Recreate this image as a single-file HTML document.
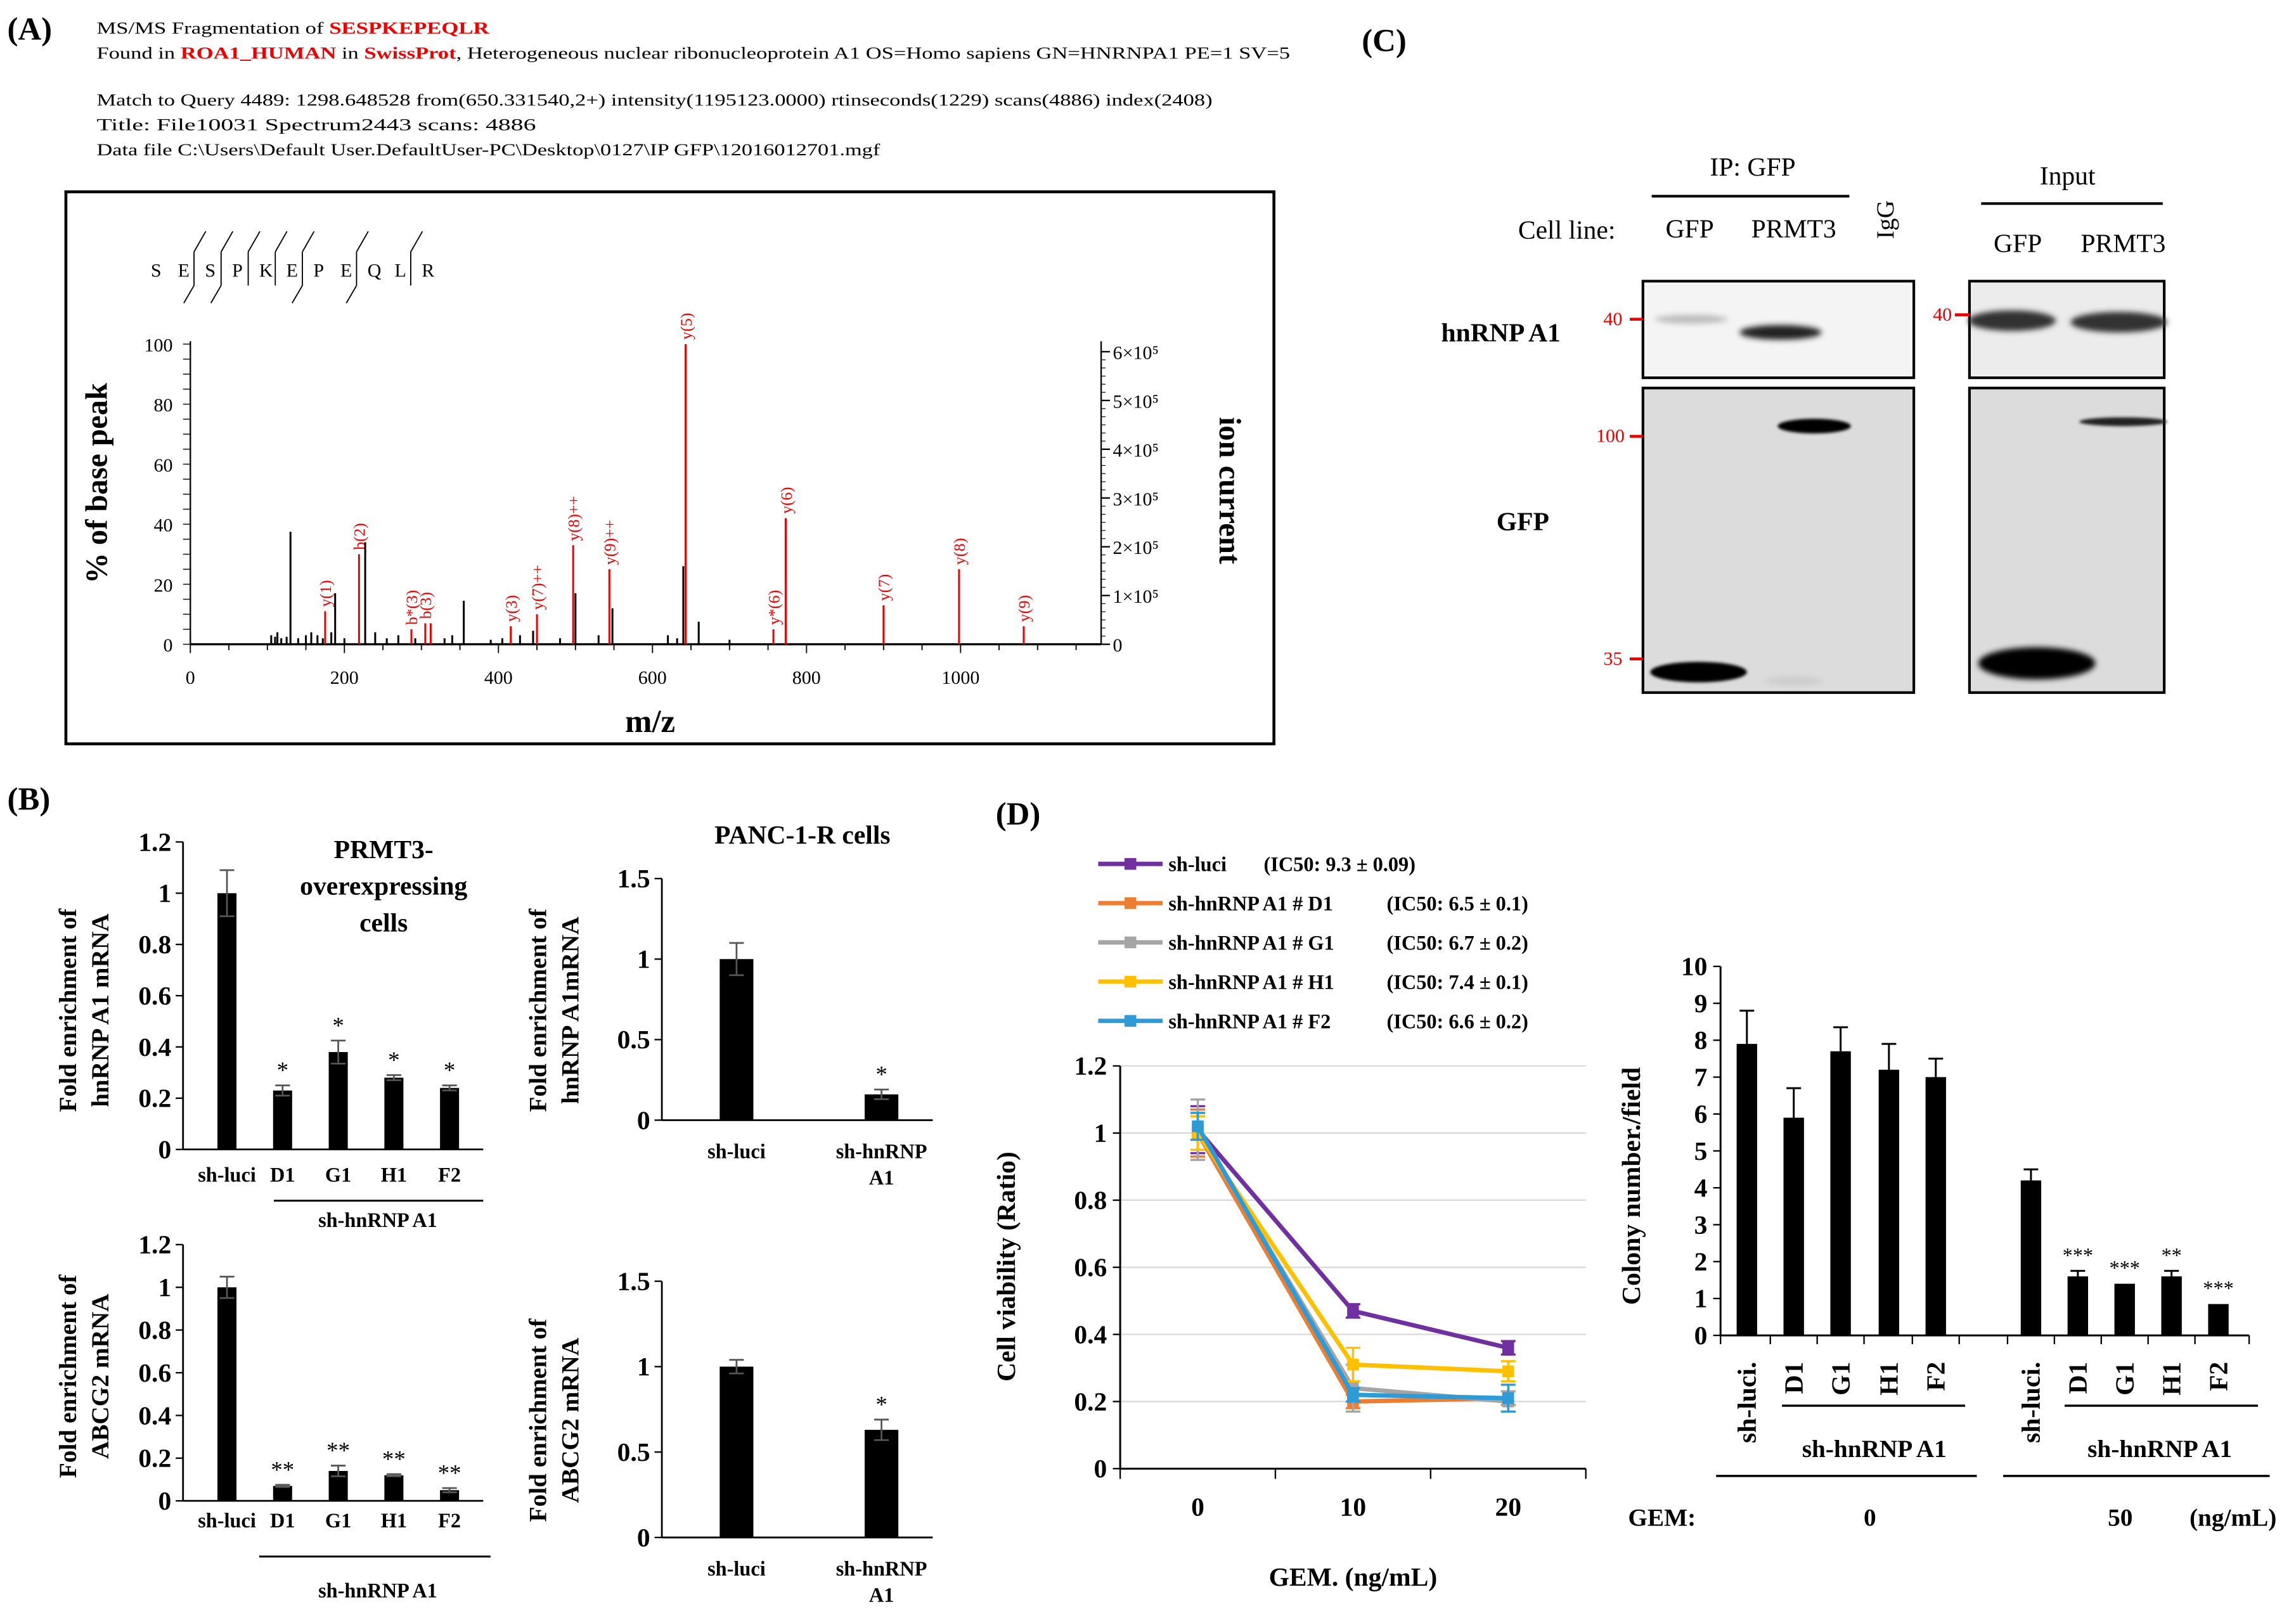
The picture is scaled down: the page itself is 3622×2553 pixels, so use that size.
<!DOCTYPE html>
<html><head><meta charset="utf-8"><style>
html,body{margin:0;padding:0;background:#fff;}
svg{display:block;}
text{font-family:"Liberation Serif",serif;}
.b{font-weight:bold;}
</style></head><body>
<svg id="fig" xmlns="http://www.w3.org/2000/svg" width="3622" height="2553" viewBox="0 0 1568 1105" preserveAspectRatio="none">
<rect width="1568" height="1105" fill="#fff"/>
<g font-size="11.5">
<text x="5" y="27" font-size="22" class="b">(A)</text>
<text x="66" y="23" textLength="268" lengthAdjust="spacingAndGlyphs">MS/MS Fragmentation of <tspan fill="#e00" class="b">SESPKEPEQLR</tspan></text>
<text x="66" y="40" textLength="815" lengthAdjust="spacingAndGlyphs">Found in <tspan fill="#e00" class="b">ROA1_HUMAN</tspan> in <tspan fill="#e00" class="b">SwissProt</tspan>, Heterogeneous nuclear ribonucleoprotein A1 OS=Homo sapiens GN=HNRNPA1 PE=1 SV=5</text>
<text x="66" y="72" textLength="762" lengthAdjust="spacingAndGlyphs">Match to Query 4489: 1298.648528 from(650.331540,2+) intensity(1195123.0000) rtinseconds(1229) scans(4886) index(2408)</text>
<text x="66" y="89" textLength="300" lengthAdjust="spacingAndGlyphs">Title: File10031 Spectrum2443 scans: 4886</text>
<text x="66" y="106" textLength="535" lengthAdjust="spacingAndGlyphs">Data file C:\Users\Default User.DefaultUser-PC\Desktop\0127\IP GFP\12016012701.mgf</text>
</g>
<rect x="45" y="131" width="825" height="377" fill="none" stroke="#000" stroke-width="2"/>
<g id="spec"></g>
<text x="5" y="553" font-size="22" class="b">(B)</text>
<g id="bcharts"></g>
<text x="930" y="35" font-size="22" class="b">(C)</text>
<g id="blot"></g>
<text x="680" y="563" font-size="22" class="b">(D)</text>
<g id="line"></g>
<g id="colony"></g>
</svg>
<script>
// ---------- DATA ----------
const specMz   = [105,110,113,118,125,130,140,150,157,165,172,175,183,188,200,219,227,240,255,270,287,292,305,312,330,340,355,390,405,416,428,445,450,480,497,500,530,544,548,620,632,640,643,660,700,757,773,900,998,1082];
const specPct  = [3,2.5,4,2,2.5,37.5,2,3,4,3,2,11,4,17,2,30,34,4,2,3,5,2,7,7,2,3,14.5,1.5,2,6,3,4.5,10,2,33,17,3,25,12,3,2,26,100,7.5,1.5,5,42,13,25,6];
const specRed  = [0,0,0,0,0,0,0,0,0,0,0,1,0,0,0,1,0,0,0,0,1,0,1,1,0,0,0,0,0,1,0,0,1,0,1,0,0,1,0,0,0,0,1,0,0,1,1,1,1,1];
const specLbl  = ["","","","","","","","","","","","y(1)","","","","b(2)","","","","","b*(3)","","b(3)","","","","","","","y(3)","","","y(7)++","","y(8)++","","","y(9)++","","","","","y(5)","","","y*(6)","y(6)","y(7)","y(8)","y(9)"];
const mzTicks  = [0,200,400,600,800,1000];
const pctTicks = [0,20,40,60,80,100];
const ionTicks = ["0","1×10⁵","2×10⁵","3×10⁵","4×10⁵","5×10⁵","6×10⁵"];

const b1Cats=["sh-luci","D1","G1","H1","F2"], b1Vals=[1.0,0.23,0.38,0.28,0.24], b1Err=[0.09,0.02,0.045,0.01,0.01], b1Sig=["","*","*","*","*"];
const b2Cats=["sh-luci","sh-hnRNP|A1"], b2Vals=[1.0,0.16], b2Err=[0.1,0.03], b2Sig=["","*"];
const b3Vals=[1.0,0.07,0.14,0.12,0.05], b3Err=[0.05,0.005,0.025,0.005,0.01], b3Sig=["","**","**","**","**"];
const b4Vals=[1.0,0.63], b4Err=[0.04,0.06], b4Sig=["","*"];
const b1Ticks=[0,0.2,0.4,0.6,0.8,1,1.2], b2Ticks=[0,0.5,1,1.5];

const doses=[0,10,20];
const seriesNames=["sh-luci","sh-hnRNP A1 # D1","sh-hnRNP A1 # G1","sh-hnRNP A1 # H1","sh-hnRNP A1 # F2"];
const seriesIC=["(IC50: 9.3 ± 0.09)","(IC50: 6.5 ± 0.1)","(IC50: 6.7 ± 0.2)","(IC50: 7.4 ± 0.1)","(IC50: 6.6 ± 0.2)"];
const vLuci=[1.01,0.47,0.36], vD1=[1.0,0.20,0.21], vG1=[1.01,0.24,0.20], vH1=[1.0,0.31,0.29], vF2=[1.02,0.22,0.21];
const eLuci=[0.07,0.02,0.02], eD1=[0.07,0.02,0.02], eG1=[0.09,0.07,0.03], eH1=[0.05,0.05,0.03], eF2=[0.04,0.02,0.04];
const vTicks=[0,0.2,0.4,0.6,0.8,1,1.2];

const colCats=["sh-luci.","D1","G1","H1","F2","sh-luci.","D1","G1","H1","F2"];
const colVals=[7.9,5.9,7.7,7.2,7.0,4.2,1.6,1.4,1.6,0.85];
const colErr=[0.9,0.8,0.65,0.7,0.5,0.3,0.15,0,0.15,0];
const colSig=["","","","","","","***","***","**","***"];
const colTicks=[0,1,2,3,4,5,6,7,8,9,10];

// ---------- HELPERS ----------
const NS="http://www.w3.org/2000/svg";
function el(tag,attrs,parent){const e=document.createElementNS(NS,tag);for(const k in attrs)e.setAttribute(k,attrs[k]);parent.appendChild(e);return e;}
function txt(s,attrs,parent){const e=el('text',attrs,parent);e.textContent=s;return e;}

// ---------- SPECTRUM ----------
(function(){
 const g=document.getElementById('spec');
 const x=m=>130+m*0.526, y=p=>440-p*2.05;
 let e=el('line',{x1:130,y1:440,x2:752,y2:440,stroke:'#000','stroke-width':1.5},g);
 
 e=el('line',{x1:130,y1:440,x2:130,y2:233,stroke:'#000','stroke-width':1},g);
 
 e=el('line',{x1:752,y1:440,x2:752,y2:233,stroke:'#000','stroke-width':1},g);
 
 for(let m=0;m<=1180;m+=50){el('line',{x1:x(m),y1:440,x2:x(m),y2:m%200==0?446:444,stroke:'#000','stroke-width':0.8},g);}
 mzTicks.forEach(m=>{const t=txt(String(m),{x:x(m),y:467,'font-size':13,'text-anchor':'middle'},g);});
 for(let p=0;p<=100;p+=5){el('line',{x1:125,y1:y(p),x2:130,y2:y(p),stroke:'#000','stroke-width':0.6},g);}
 pctTicks.forEach(p=>{const t=txt(String(p),{x:118,y:y(p)+5,'font-size':13,'text-anchor':'end'},g);});
 ionTicks.forEach((s,i)=>{const yy=440-i*33.3;el('line',{x1:752,y1:yy,x2:758,y2:yy,stroke:'#000'},g);const t=txt(s,{x:760,y:yy+5,'font-size':13},g);});
 for(let i=0;i<=36;i++){const yy=440-i*33.3/6;el('line',{x1:752,y1:yy,x2:755,y2:yy,stroke:'#000','stroke-width':0.5},g);}
 specMz.forEach((m,i)=>{
  const l=el('line',{x1:x(m),y1:440,x2:x(m),y2:y(specPct[i]),stroke:specRed[i]?'#e00':'#000','stroke-width':1.3},g);
  
  if(specLbl[i]){const px=x(m)+4,py=y(specPct[i])-3;const t=txt(specLbl[i],{x:px,y:py,'font-size':11,fill:'#e00',transform:`rotate(-90 ${px} ${py})`},g);}
 });
 let t=txt('% of base peak',{x:73,y:330,'font-size':21,'text-anchor':'middle',class:'b',transform:'rotate(-90 73 330)'},g);
 
 t=txt('ion current',{x:833,y:335,'font-size':21,'text-anchor':'middle',class:'b',transform:'rotate(90 833 335)'},g);
 
 t=txt('m/z',{x:444,y:500,'font-size':22,'text-anchor':'middle',class:'b'},g);
 
 const seq="SESPKEPEQLR".split("");
 seq.forEach((c,i)=>{const t=txt(c,{x:103+i*18.5,y:189,'font-size':13},g);});
 [1,2,3,4,5,7,9].forEach(i=>{const xx=117+i*18.5-3;el('line',{x1:xx,y1:172,x2:xx,y2:195,stroke:'#000','stroke-width':0.8},g);el('line',{x1:xx,y1:172,x2:xx+8,y2:158,stroke:'#000','stroke-width':0.8},g);});
 [1,2,5,7].forEach(i=>{const xx=117+i*18.5-3;el('line',{x1:xx,y1:195,x2:xx-7,y2:207,stroke:'#000','stroke-width':0.8},g);});
})();

// ---------- BAR CHARTS B ----------
function barChart(o){
 const g=el('g',{},document.getElementById('bcharts'));
 
 const y=v=>o.y0-v*(o.y0-o.ytop)/o.ymax;
 el('line',{x1:o.x0,y1:o.ytop,x2:o.x0,y2:o.y0,stroke:'#000','stroke-width':1.2},g);
 el('line',{x1:o.x0,y1:o.y0,x2:o.x1,y2:o.y0,stroke:'#000','stroke-width':1.2},g);
 o.ticks.forEach(v=>{el('line',{x1:o.x0-5,y1:y(v),x2:o.x0,y2:y(v),stroke:'#000'},g);const t=txt(String(v),{x:o.x0-8,y:y(v)+6,'font-size':18,'text-anchor':'end',class:'b'},g);});
 o.vals.forEach((v,i)=>{
  const cx=o.xs[i];
  const r=el('rect',{x:cx-o.bw/2,y:y(v),width:o.bw,height:o.y0-y(v),fill:'#000'},g);
  
  const e=o.err[i];
  el('line',{x1:cx,y1:y(v+e),x2:cx,y2:y(v-e),stroke:'#555','stroke-width':1.2},g);
  el('line',{x1:cx-5,y1:y(v+e),x2:cx+5,y2:y(v+e),stroke:'#555','stroke-width':1.2},g);
  el('line',{x1:cx-5,y1:y(v-e),x2:cx+5,y2:y(v-e),stroke:'#555','stroke-width':1.2},g);
  if(o.sig[i]){const t=txt(o.sig[i],{x:cx,y:y(v+e)-5,'font-size':16,'text-anchor':'middle'},g);}
  if(o.cats){o.cats[i].split('|').forEach((s,k)=>{const t=txt(s,{x:cx,y:o.y0+o.catDy+k*18,'font-size':14,'text-anchor':'middle',class:'b'},g);});}
 });
 o.title.forEach((s,k)=>{const tx=o.tx+k*22, ty=o.ty;const t=txt(s,{x:tx,y:ty,'font-size':17,'text-anchor':'middle',class:'b',transform:`rotate(-90 ${tx} ${ty})`},g);});
 return g;
}
const gb1=barChart({name:'hnrnpa1-prmt3-chart',x0:125,x1:330,y0:785,ytop:575,ymax:1.2,ticks:b1Ticks,xs:[155,193,231,269,307],bw:13,vals:b1Vals,err:b1Err,sig:b1Sig,cats:b1Cats,catDy:22,title:['Fold enrichment of','hnRNP A1 mRNA'],tx:52,ty:690});
const gb2=barChart({name:'hnrnpa1-panc-chart',x0:452,x1:637,y0:765,ytop:600,ymax:1.5,ticks:b2Ticks,xs:[503,602],bw:23,vals:b2Vals,err:b2Err,sig:b2Sig,cats:b2Cats,catDy:26,title:['Fold enrichment of','hnRNP A1mRNA'],tx:373,ty:690});
const gb3=barChart({name:'abcg2-prmt3-chart',x0:125,x1:330,y0:1025,ytop:850,ymax:1.2,ticks:b1Ticks,xs:[155,193,231,269,307],bw:13,vals:b3Vals,err:b3Err,sig:b3Sig,cats:b1Cats,catDy:18,title:['Fold enrichment of','ABCG2 mRNA'],tx:52,ty:940});
const gb4=barChart({name:'abcg2-panc-chart',x0:452,x1:637,y0:1050,ytop:875,ymax:1.5,ticks:b2Ticks,xs:[503,602],bw:23,vals:b4Vals,err:b4Err,sig:b4Sig,cats:b2Cats,catDy:26,title:['Fold enrichment of','ABCG2 mRNA'],tx:373,ty:970});
(function(){const g=document.getElementById('bcharts');
 [['PRMT3-',262,586],['overexpressing',262,611],['cells',262,636],['PANC-1-R cells',548,576]].forEach(a=>{const t=txt(a[0],{x:a[1],y:a[2],'font-size':18,'text-anchor':'middle',class:'b'},g);});
 el('line',{x1:187,y1:820,x2:330,y2:820,stroke:'#000','stroke-width':1.3},g);
 let t=txt('sh-hnRNP  A1',{x:258,y:838,'font-size':14,'text-anchor':'middle',class:'b'},g);
 el('line',{x1:177,y1:1063,x2:335,y2:1063,stroke:'#000','stroke-width':1.3},g);
 t=txt('sh-hnRNP  A1',{x:258,y:1091,'font-size':14,'text-anchor':'middle',class:'b'},g);
})();

// ---------- WESTERN BLOT ----------
(function(){
 const g=document.getElementById('blot');
 const defs=el('defs',{},g);
 const f=el('filter',{id:'blur',x:'-50%',y:'-100%',width:'200%',height:'300%'},defs);el('feGaussianBlur',{stdDeviation:2},f);
 const f2=el('filter',{id:'blur2',x:'-50%',y:'-100%',width:'200%',height:'300%'},defs);el('feGaussianBlur',{stdDeviation:1},f2);
 [[1122,192,185,66,'#f4f4f4'],[1122,265,185,208,'#dcdcdc'],[1345,192,133,66,'#ececec'],[1345,265,133,208,'#dcdcdc']].forEach(b=>{const r=el('rect',{x:b[0],y:b[1],width:b[2],height:b[3],fill:b[4],stroke:'#000','stroke-width':1.8},g);});
 const bands=[[1155,218,25,3,'#bbb','blur'],[1216,227,28,5,'#222','blur'],[1374,219,30,7,'#333','blur'],[1447,220,33,7,'#333','blur'],[1239,291,25,5,'#000','blur2'],[1450,288,30,3,'#222','blur2'],[1160,459,33,7,'#000','blur2'],[1225,465,20,3,'#ccc','blur'],[1391,453,40,11,'#000','blur']];
 bands.forEach(b=>{const e=el('ellipse',{cx:b[0],cy:b[1],rx:b[2],ry:b[3],fill:b[4],filter:`url(#${b[5]})`},g);});
 [[1095,218,'40',1113,1122],[1090,298,'100',1113,1122],[1095,450,'35',1113,1122],[1320,215,'40',1335,1345]].forEach(m=>{const t=txt(m[2],{x:m[0],y:m[1]+4,'font-size':13,fill:'#e00'},g);el('line',{x1:m[3],y1:m[1],x2:m[4],y2:m[1],stroke:'#e00','stroke-width':2},g);});
 const labels=[['IP: GFP',1197,120,18],['Input',1412,126,18],['Cell line:',1070,163,18],['GFP',1154,162,18],['PRMT3',1225,162,18],['GFP',1378,172,18],['PRMT3',1450,172,18]];
 labels.forEach(l=>{const t=txt(l[0],{x:l[1],y:l[2],'font-size':l[3],'text-anchor':'middle'},g);});
 let t=txt('IgG',{x:1293,y:150,'font-size':17,'text-anchor':'middle',transform:'rotate(-90 1293 150)'},g);
 el('line',{x1:1128,y1:134,x2:1263,y2:134,stroke:'#000','stroke-width':1.8},g);
 el('line',{x1:1353,y1:139,x2:1477,y2:139,stroke:'#000','stroke-width':1.8},g);
 t=txt('hnRNP A1',{x:1025,y:233,'font-size':18,'text-anchor':'middle',class:'b'},g);
 t=txt('GFP',{x:1040,y:362,'font-size':18,'text-anchor':'middle',class:'b'},g);
})();

// ---------- LINE CHART ----------
(function(){
 const g=document.getElementById('line');
 const colors=['#7030a0','#ed7d31','#a5a5a5','#ffc000','#2e9bd6'];
 const vals=[vLuci,vD1,vG1,vH1,vF2], errs=[eLuci,eD1,eG1,eH1,eF2];
 const x=d=>818+d*10.6, y=v=>1003-v*229.2;
 vTicks.forEach(v=>{if(v>0)el('line',{x1:765,y1:y(v),x2:1083,y2:y(v),stroke:'#d9d9d9','stroke-width':1},g);const t=txt(String(v),{x:756,y:y(v)+6,'font-size':18,'text-anchor':'end',class:'b'},g);el('line',{x1:760,y1:y(v),x2:765,y2:y(v),stroke:'#000'},g);});
 el('line',{x1:765,y1:y(1.2),x2:765,y2:1003,stroke:'#000','stroke-width':1.3},g);
 el('line',{x1:765,y1:1003,x2:1083,y2:1003,stroke:'#000','stroke-width':1.3},g);
 [765,871,977,1083].forEach(xx=>el('line',{x1:xx,y1:1003,x2:xx,y2:1010,stroke:'#000'},g));
 doses.forEach(d=>{const t=txt(String(d),{x:x(d),y:1035,'font-size':18,'text-anchor':'middle',class:'b'},g);});
 vals.forEach((vs,s)=>{
  const pts=vs.map((v,i)=>x(doses[i])+','+y(v)).join(' ');
  const p=el('polyline',{points:pts,fill:'none',stroke:colors[s],'stroke-width':3},g);
  
  vs.forEach((v,i)=>{const xx=x(doses[i]),e=errs[s][i];
   el('line',{x1:xx,y1:y(v+e),x2:xx,y2:y(v-e),stroke:colors[s],'stroke-width':1.5},g);
   el('line',{x1:xx-5,y1:y(v+e),x2:xx+5,y2:y(v+e),stroke:colors[s],'stroke-width':1.5},g);
   el('line',{x1:xx-5,y1:y(v-e),x2:xx+5,y2:y(v-e),stroke:colors[s],'stroke-width':1.5},g);
   const m=el('rect',{x:xx-4,y:y(v)-4,width:8,height:8,fill:colors[s]},g);
   });
  const ly=590+s*26.8;
  const lg=el('g',{},g);
  el('line',{x1:750,y1:ly,x2:794,y2:ly,stroke:colors[s],'stroke-width':3},lg);
  el('rect',{x:768,y:ly-4,width:8,height:8,fill:colors[s]},lg);
  txt(seriesNames[s],{x:798,y:ly+5,'font-size':14,class:'b'},lg);
  txt(seriesIC[s],{x:s==0?863:947,y:ly+5,'font-size':14,class:'b'},lg);
 });
 let t=txt('Cell viability (Ratio)',{x:693,y:865,'font-size':18,'text-anchor':'middle',class:'b',transform:'rotate(-90 693 865)'},g);
 t=txt('GEM. (ng/mL)',{x:924,y:1083,'font-size':18,'text-anchor':'middle',class:'b'},g);
})();

// ---------- COLONY CHART ----------
(function(){
 const g=document.getElementById('colony');
 const xs=[1193,1225,1257,1290,1322,1387,1419,1451,1483,1515];
 const y=v=>912-v*25.2;
 el('line',{x1:1175,y1:y(10),x2:1175,y2:912,stroke:'#000','stroke-width':1.3},g);
 el('line',{x1:1175,y1:912,x2:1536,y2:912,stroke:'#000','stroke-width':1.3},g);
 colTicks.forEach(v=>{el('line',{x1:1170,y1:y(v),x2:1175,y2:y(v),stroke:'#000'},g);const t=txt(String(v),{x:1166,y:y(v)+6,'font-size':18,'text-anchor':'end',class:'b'},g);});
 [1175,1209,1241,1273,1306,1338,1371,1403,1435,1467,1499,1536].forEach(xx=>el('line',{x1:xx,y1:912,x2:xx,y2:918,stroke:'#000'},g));
 colVals.forEach((v,i)=>{const cx=xs[i];
  const r=el('rect',{x:cx-7,y:y(v),width:14,height:912-y(v),fill:'#000'},g);
  
  if(colErr[i]>0){el('line',{x1:cx,y1:y(v+colErr[i]),x2:cx,y2:y(v),stroke:'#000','stroke-width':1.3},g);el('line',{x1:cx-5,y1:y(v+colErr[i]),x2:cx+5,y2:y(v+colErr[i]),stroke:'#000','stroke-width':1.3},g);}
  if(colSig[i]){const t=txt(colSig[i],{x:cx,y:y(v+colErr[i])-6,'font-size':14,'text-anchor':'middle'},g);}
  const lx=cx+6,ly=930;const t=txt(colCats[i],{x:lx,y:ly,'font-size':18,'text-anchor':'end',class:'b',transform:`rotate(-90 ${lx} ${ly})`},g);
 });
 el('line',{x1:1217,y1:960,x2:1342,y2:960,stroke:'#000','stroke-width':1.5},g);
 el('line',{x1:1410,y1:960,x2:1542,y2:960,stroke:'#000','stroke-width':1.5},g);
 el('line',{x1:1172,y1:1008,x2:1350,y2:1008,stroke:'#000','stroke-width':1.5},g);
 el('line',{x1:1368,y1:1008,x2:1550,y2:1008,stroke:'#000','stroke-width':1.5},g);
 [['sh-hnRNP A1',1280,995],['sh-hnRNP A1',1475,995],['GEM:',1135,1042],['0',1277,1042],['50',1448,1042],['(ng/mL)',1525,1042]].forEach(a=>{const t=txt(a[0],{x:a[1],y:a[2],'font-size':17,'text-anchor':'middle',class:'b'},g);});
 const t=txt('Colony number./field',{x:1120,y:810,'font-size':18,'text-anchor':'middle',class:'b',transform:'rotate(-90 1120 810)'},g);
})();
</script>
</body></html>
